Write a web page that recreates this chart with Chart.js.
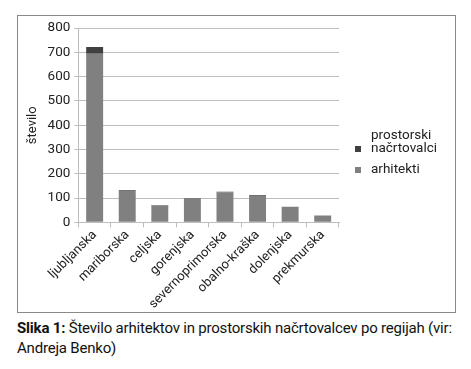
<!DOCTYPE html>
<html lang="sl">
<head>
<meta charset="UTF-8" />
<title>Število arhitektov</title>
<script src="https://cdn.jsdelivr.net/npm/chart.js"></script>
<style>
  html, body { margin: 0; padding: 0; background: #fff; overflow: hidden; }
  body { width: 471px; height: 369px; position: relative; font-family: "Roboto", sans-serif; }
  .box {
    position: absolute; left: 17px; top: 15px; width: 437px; height: 296px;
    border: 1px solid #8a8a8a;
  }
  canvas { display: block; }
  .legend { position: absolute; left: 337px; top: 112px; font-size: 13.5px; color: #222; line-height: 13px; }
  .legend .item { position: relative; padding-left: 16px; margin-bottom: 8px; }
  .legend .sw { position: absolute; left: 0; width: 6px; height: 6px; }
  .caption { position: absolute; left: 17px; top: 318px; font-size: 15px; line-height: 20px; color: #111; width: 450px; letter-spacing: -0.2px; }
</style>
</head>
<body>
<div class="box">
  <canvas id="c" width="437" height="296"></canvas>
  <div class="legend">
    <div class="item"><span class="sw" style="background:#404040; top:18px"></span>prostorski<br>načrtovalci</div>
    <div class="item"><span class="sw" style="background:#808080; top:5px"></span>arhitekti</div>
  </div>
</div>
<div class="caption"><b>Slika 1:</b> Število arhitektov in prostorskih načrtovalcev po regijah (vir: Andreja Benko)</div>
<script>
const regions = ["ljubljanska", "mariborska", "celjska", "gorenjska", "severnoprimorska", "obalno-kraška", "dolenjska", "prekmurska"];
const arhitekti = [694, 130, 71, 97, 123, 109, 64, 28];
const nacrtovalci = [28, 3, 1, 2, 3, 3, 0, 0];

const fam = 'Roboto, sans-serif';
new Chart(document.getElementById('c'), {
  type: 'bar',
  data: {
    labels: regions,
    datasets: [
      { label: 'arhitekti', data: arhitekti, backgroundColor: '#808080', barPercentage: 0.52, categoryPercentage: 1 },
      { label: 'prostorski načrtovalci', data: nacrtovalci, backgroundColor: '#404040', barPercentage: 0.52, categoryPercentage: 1 }
    ]
  },
  options: {
    responsive: false,
    animation: false,
    layout: { padding: { left: 4, right: 116, top: 11, bottom: 0 } },
    plugins: { legend: { display: false }, tooltip: { enabled: false } },
    scales: {
      x: {
        stacked: true,
        grid: { display: true, drawOnChartArea: false, offset: true, color: '#bdbdbd', tickLength: 5 },
        border: { color: '#bdbdbd' },
        ticks: { maxRotation: 45, minRotation: 45, color: '#222', padding: 0, font: { family: fam, size: 13 } }
      },
      y: {
        stacked: true,
        min: 0, max: 800,
        ticks: { stepSize: 100, color: '#222', padding: 4, font: { family: fam, size: 13.5 } },
        grid: { color: '#bdbdbd', tickLength: 4 },
        border: { color: '#bdbdbd' },
        title: { display: true, text: 'število', color: '#222', padding: 3, font: { family: fam, size: 13 } }
      }
    }
  }
});
</script>
</body>
</html>
